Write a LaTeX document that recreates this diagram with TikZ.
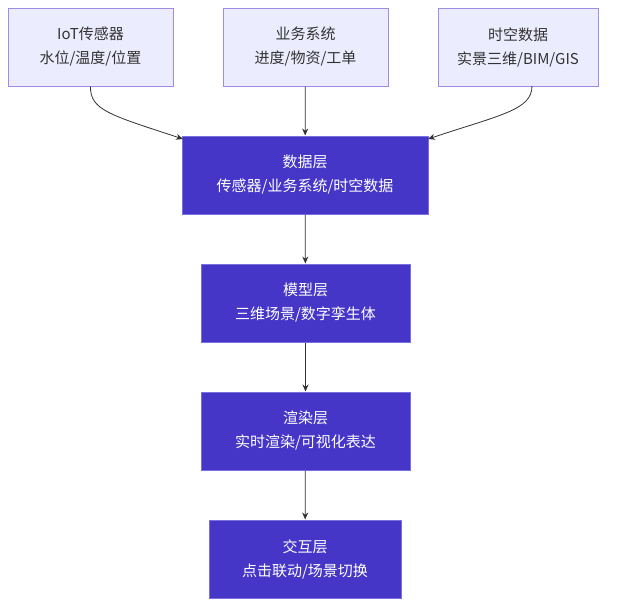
\documentclass[tikz,border=0pt]{standalone}
\usepackage{fontspec}
\setmainfont{Noto Sans CJK SC}
\usetikzlibrary{arrows.meta}
\definecolor{topfill}{HTML}{ECECFF}
\definecolor{topdraw}{HTML}{A08CE6}
\definecolor{layfill}{HTML}{4536C8}
\definecolor{laydraw}{HTML}{7A6FE0}
\definecolor{txt}{HTML}{333333}
\begin{document}
\begin{tikzpicture}[x=1pt,y=-1pt,
 top/.style={draw=topdraw, fill=topfill, line width=1pt, text=txt, font=\fontsize{15}{24}\selectfont, align=center, inner sep=0},
 layer/.style={draw=laydraw, fill=layfill, line width=1pt, text=white, font=\fontsize{15}{24}\selectfont, align=center, inner sep=0},
 arr/.style={-{Stealth[length=7pt,width=6pt]}, draw=txt, line width=0.8pt}]
\useasboundingbox (0,0) rectangle (635,606);
\node[top, minimum width=165, minimum height=78] (iot) at (90.5,47) {IoT传感器\\水位/温度/位置};
\node[top, minimum width=165, minimum height=78] (biz) at (305.5,47) {业务系统\\进度/物资/工单};
\node[top, minimum width=160, minimum height=78] (st) at (518,47) {时空数据\\实景三维/BIM/GIS};
\node[layer, minimum width=246, minimum height=78] (data) at (305,175) {数据层\\传感器/业务系统/时空数据};
\node[layer, minimum width=209, minimum height=78] (model) at (305.5,303) {模型层\\三维场景/数字孪生体};
\node[layer, minimum width=209, minimum height=78] (render) at (305.5,431) {渲染层\\实时渲染/可视化表达};
\node[layer, minimum width=192, minimum height=78] (inter) at (305,559) {交互层\\点击联动/场景切换};
\coordinate (dl) at (183,139);
\coordinate (dr) at (428,139);
\coordinate (sts) at (532,86);
\draw[arr] (iot.south) .. controls (90,110) and (110,115) .. (dl);
\draw[arr] (sts) .. controls (532,110) and (500,115) .. (dr);
\draw[arr] (biz) -- (data);
\draw[arr] (data) -- (model);
\draw[arr] (model) -- (render);
\draw[arr] (render) -- (inter);
\end{tikzpicture}
\end{document}
